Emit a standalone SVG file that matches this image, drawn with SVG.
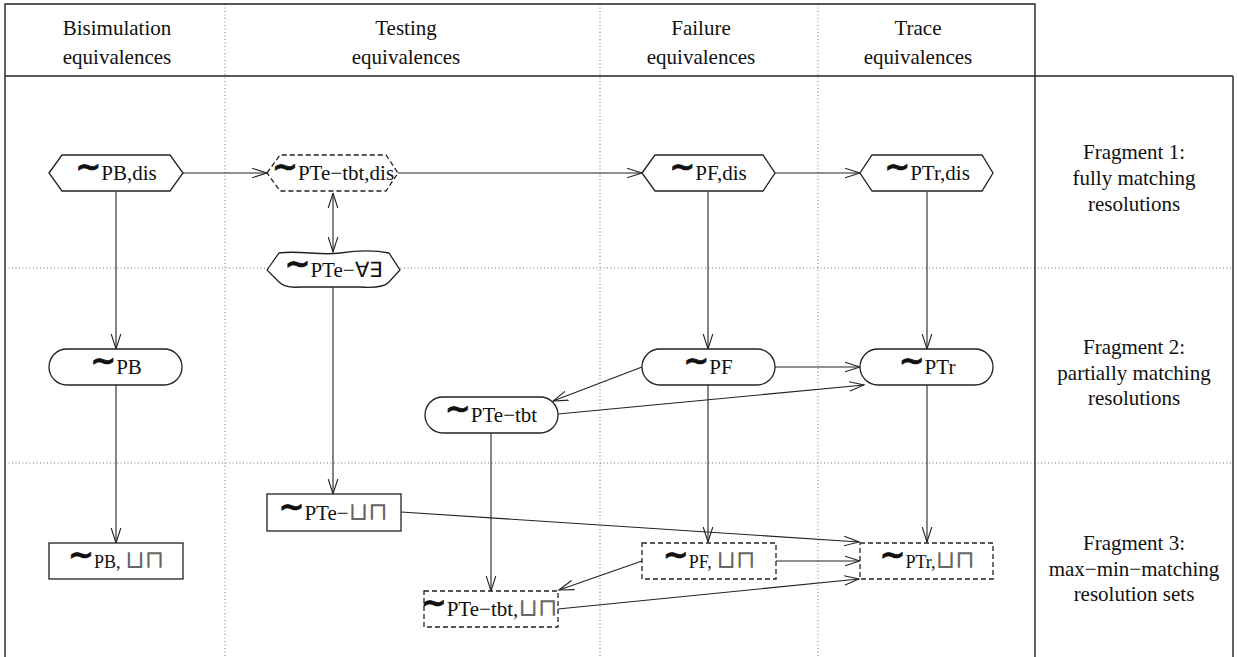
<svg xmlns="http://www.w3.org/2000/svg" width="1238" height="657" viewBox="0 0 1238 657">
<style>
  .frame{fill:none;stroke:#222;stroke-width:1.4}
  .dot{fill:none;stroke:#777;stroke-width:1;stroke-dasharray:1 2.5}
  .nd{fill:#fff;stroke:#222;stroke-width:1.3}
  .dash{stroke-dasharray:5 3}
  .lbl{font-family:"Liberation Serif","Times New Roman",serif;font-size:21px;fill:#111;text-anchor:middle}
  .tl{font-family:"DejaVu Sans",sans-serif;font-weight:bold;font-size:31px;stroke:#111;stroke-width:0.7}
  .sm{font-size:18px}
  .op{font-family:"DejaVu Sans",sans-serif;font-size:25px;fill:#666}
  .hd{font-family:"Liberation Serif","Times New Roman",serif;font-size:21px;fill:#111;text-anchor:middle}
  .cn{fill:none;stroke:#222;stroke-width:1.1;marker-end:url(#ah)}
</style>
<defs>
  <marker id="ah" markerUnits="userSpaceOnUse" markerWidth="18" markerHeight="12" refX="15" refY="6" orient="auto">
    <path d="M0,1.2 L15,6 L0,10.8" fill="none" stroke="#222" stroke-width="1.1"/>
  </marker>
  <marker id="ahs" markerUnits="userSpaceOnUse" markerWidth="18" markerHeight="12" refX="0" refY="6" orient="auto">
    <path d="M15,1.2 L0,6 L15,10.8" fill="none" stroke="#222" stroke-width="1.1"/>
  </marker>
</defs>
<rect width="1238" height="657" fill="#fff"/>

<g id="grid">
  <line class="dot" x1="225" y1="4" x2="225" y2="657"/>
  <line class="dot" x1="600" y1="4" x2="600" y2="657"/>
  <line class="dot" x1="818" y1="4" x2="818" y2="657"/>
  <line class="dot" x1="5" y1="268" x2="1233" y2="268"/>
  <line class="dot" x1="5" y1="463" x2="1233" y2="463"/>
  <polyline class="frame" points="5,657 5,4 1035,4 1035,657"/>
  <line class="frame" x1="5" y1="76" x2="1233" y2="76"/>
  <line class="frame" x1="1233" y1="76" x2="1233" y2="657"/>
</g>

<g id="headers">
  <text class="hd" x="117" y="35">Bisimulation</text>
  <text class="hd" x="117" y="64">equivalences</text>
  <text class="hd" x="406" y="35">Testing</text>
  <text class="hd" x="406" y="64">equivalences</text>
  <text class="hd" x="701" y="35">Failure</text>
  <text class="hd" x="701" y="64">equivalences</text>
  <text class="hd" x="918" y="35">Trace</text>
  <text class="hd" x="918" y="64">equivalences</text>
</g>

<g id="fragments">
  <text class="hd" x="1134" y="159">Fragment 1:</text>
  <text class="hd" x="1134" y="185">fully matching</text>
  <text class="hd" x="1134" y="211">resolutions</text>
  <text class="hd" x="1134" y="354">Fragment 2:</text>
  <text class="hd" x="1134" y="380">partially matching</text>
  <text class="hd" x="1134" y="405">resolutions</text>
  <text class="hd" x="1134" y="550">Fragment 3:</text>
  <text class="hd" x="1134" y="576">max−min−matching</text>
  <text class="hd" x="1134" y="601">resolution sets</text>
</g>

<g id="connectors">
  <line class="cn" x1="183" y1="173" x2="267" y2="173"/>
  <line class="cn" x1="398" y1="173" x2="642" y2="173"/>
  <line class="cn" x1="775" y1="173" x2="860" y2="173"/>
  <line class="cn" x1="333" y1="193" x2="333" y2="252" marker-start="url(#ahs)"/>
  <line class="cn" x1="116" y1="192" x2="116" y2="349"/>
  <line class="cn" x1="708" y1="192" x2="708" y2="349"/>
  <line class="cn" x1="927" y1="192" x2="927" y2="349"/>
  <line class="cn" x1="333" y1="287" x2="333" y2="494"/>
  <line class="cn" x1="116" y1="385" x2="116" y2="543"/>
  <line class="cn" x1="775" y1="367" x2="860" y2="367"/>
  <line class="cn" x1="642" y1="367" x2="553" y2="401"/>
  <line class="cn" x1="558" y1="414" x2="864" y2="385"/>
  <line class="cn" x1="708" y1="385" x2="708" y2="542"/>
  <line class="cn" x1="927" y1="385" x2="927" y2="542"/>
  <line class="cn" x1="491" y1="432" x2="491" y2="591"/>
  <line class="cn" x1="401" y1="512" x2="859" y2="542"/>
  <line class="cn" x1="776" y1="561" x2="860" y2="561"/>
  <line class="cn" x1="642" y1="561" x2="559" y2="590"/>
  <line class="cn" x1="558" y1="609" x2="859" y2="579"/>
</g>

<g id="n-pb-dis">
  <polygon class="nd" points="49,173 62,155 170,155 183,173 170,191 62,191"/>
  <text class="lbl" x="116" y="180"><tspan class="tl" dy="-3">~</tspan><tspan dy="3">PB,dis</tspan></text>
</g>
<g id="n-pte-tbt-dis">
  <polygon class="nd dash" points="267,173 280,155 386,155 398,173 386,191 280,191"/>
  <text class="lbl" x="333" y="180"><tspan class="tl" dy="-3">~</tspan><tspan dy="3">PTe−tbt,dis</tspan></text>
</g>
<g id="n-pf-dis">
  <polygon class="nd" points="642,173 655,155 763,155 775,173 763,191 655,191"/>
  <text class="lbl" x="708" y="180"><tspan class="tl" dy="-3">~</tspan><tspan dy="3">PF,dis</tspan></text>
</g>
<g id="n-ptr-dis">
  <polygon class="nd" points="860,173 872,155 982,155 993,173 982,191 872,191"/>
  <text class="lbl" x="927" y="180"><tspan class="tl" dy="-3">~</tspan><tspan dy="3">PTr,dis</tspan></text>
</g>
<g id="n-pte-ae">
  <path class="nd" d="M267,270 L279,253 C300,250 320,256 340,253 S375,250 389,253 L400,270 L389,282 C385,287 375,288 360,287 L300,287 C290,288 283,286 279,282 Z"/>
  <text class="lbl" x="333" y="277"><tspan class="tl" dy="-3">~</tspan><tspan dy="3">PTe−∀∃</tspan></text>
</g>
<g id="n-pb">
  <rect class="nd" x="49" y="349" width="133" height="36" rx="18"/>
  <text class="lbl" x="116" y="374"><tspan class="tl" dy="-3">~</tspan><tspan dy="3">PB</tspan></text>
</g>
<g id="n-pf">
  <rect class="nd" x="642" y="349" width="133" height="36" rx="18"/>
  <text class="lbl" x="708" y="374"><tspan class="tl" dy="-3">~</tspan><tspan dy="3">PF</tspan></text>
</g>
<g id="n-ptr">
  <rect class="nd" x="860" y="349" width="133" height="36" rx="18"/>
  <text class="lbl" x="927" y="374"><tspan class="tl" dy="-3">~</tspan><tspan dy="3">PTr</tspan></text>
</g>
<g id="n-pte-tbt">
  <rect class="nd" x="425" y="397" width="133" height="36" rx="18"/>
  <text class="lbl" x="491" y="422"><tspan class="tl" dy="-3">~</tspan><tspan dy="3">PTe−tbt</tspan></text>
</g>
<g id="n-pte-sq">
  <rect class="nd" x="267" y="494" width="134" height="37"/>
  <text class="lbl" x="333" y="520"><tspan class="tl" dy="-3">~</tspan><tspan dy="3">PTe−</tspan><tspan class="op">⊔⊓</tspan></text>
</g>
<g id="n-pb-sq">
  <rect class="nd" x="49" y="543" width="134" height="36"/>
  <text class="lbl" x="116" y="568"><tspan class="tl" dy="-3">~</tspan><tspan class="sm" dy="3">PB, </tspan><tspan class="op">⊔⊓</tspan></text>
</g>
<g id="n-pf-sq">
  <rect class="nd dash" x="642" y="543" width="134" height="36"/>
  <text class="lbl" x="709" y="568"><tspan class="tl" dy="-3">~</tspan><tspan class="sm" dy="3">PF, </tspan><tspan class="op">⊔⊓</tspan></text>
</g>
<g id="n-ptr-sq">
  <rect class="nd dash" x="860" y="543" width="133" height="36"/>
  <text class="lbl" x="927" y="568"><tspan class="tl" dy="-3">~</tspan><tspan class="sm" dy="3">PTr,</tspan><tspan class="op">⊔⊓</tspan></text>
</g>
<g id="n-pte-tbt-sq">
  <rect class="nd dash" x="424" y="591" width="134" height="36"/>
  <text class="lbl" x="489" y="616"><tspan class="tl" dy="-3">~</tspan><tspan dy="3">PTe−tbt,</tspan><tspan class="op">⊔⊓</tspan></text>
</g>
</svg>
